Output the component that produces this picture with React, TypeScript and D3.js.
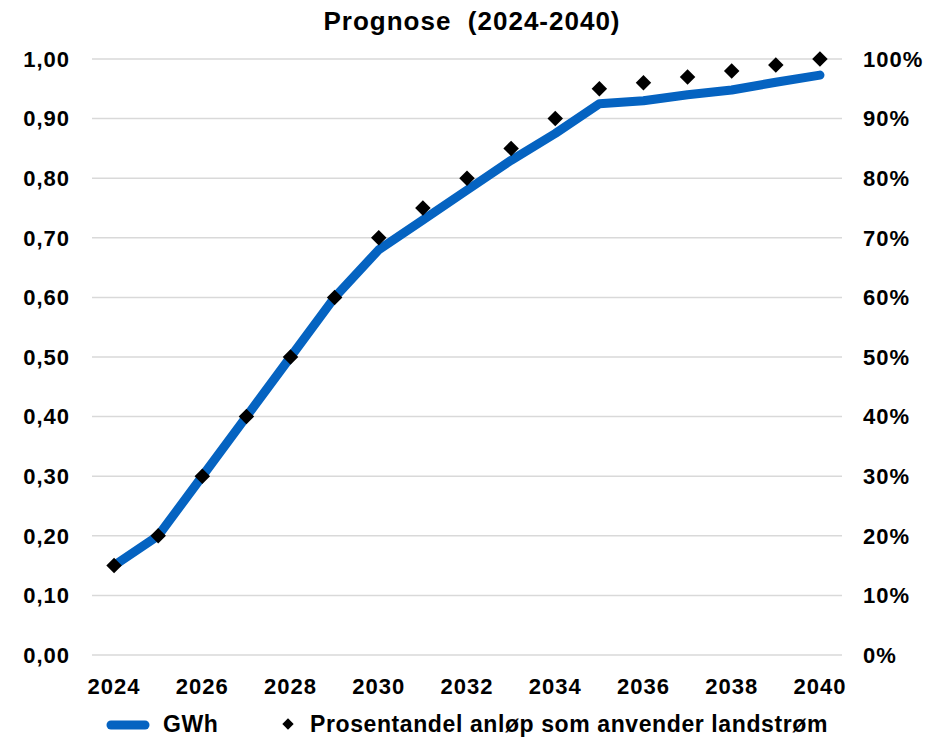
import React from "react";
import * as d3 from "d3";

const years = [2024, 2025, 2026, 2027, 2028, 2029, 2030, 2031, 2032, 2033, 2034, 2035, 2036, 2037, 2038, 2039, 2040];
const gwh = [0.15, 0.2, 0.3, 0.4, 0.5, 0.6, 0.68, 0.73, 0.78, 0.83, 0.875, 0.925, 0.93, 0.94, 0.948, 0.961, 0.973];
const share = [0.15, 0.2, 0.3, 0.4, 0.5, 0.6, 0.7, 0.75, 0.8, 0.85, 0.9, 0.95, 0.96, 0.97, 0.98, 0.99, 1.0];
const leftTicks = [0, 0.1, 0.2, 0.3, 0.4, 0.5, 0.6, 0.7, 0.8, 0.9, 1.0];
const rightTicks = [0, 0.1, 0.2, 0.3, 0.4, 0.5, 0.6, 0.7, 0.8, 0.9, 1.0];
const yearLabels = [2024, 2026, 2028, 2030, 2032, 2034, 2036, 2038, 2040];

const W = 946;
const H = 738;
const FONT = "'Liberation Sans', Arial, sans-serif";
const BLUE = "#0563C1";

export default function App() {
  const left = 92, right = 842, top = 59, bottom = 655;
  const x = d3.scaleBand<number>().domain(years).range([left, right]);
  const cx = (yr: number) => (x(yr) as number) + x.bandwidth() / 2;
  const yL = d3.scaleLinear().domain([0, 1]).range([bottom, top]);
  const yR = d3.scaleLinear().domain([0, 1]).range([bottom, top]);
  const line = d3.line<number>().x((_, i) => cx(years[i])).y((d) => yL(d));
  const fmtL = (v: number) => d3.format(".2f")(v).replace(".", ",");
  const fmtR = d3.format(".0%");
  const diamond = d3.symbol().type(d3.symbolSquare).size(120)();
  const legendDiamond = d3.symbol().type(d3.symbolSquare).size(64)();
  const tickStyle = { fontSize: 22, fontWeight: "bold" as const, letterSpacing: 1 };
  const legendY = 724;

  return (
    <svg width={W} height={H} style={{ position: "absolute", left: 0, top: 0, background: "#fff" }} fontFamily={FONT}>
      <rect width={W} height={H} fill="#fff" />
      <text x={472} y={30} textAnchor="middle" fontSize={26} fontWeight="bold" letterSpacing={1} style={{ whiteSpace: "pre" }}>
        {"Prognose  (2024-2040)"}
      </text>
      {leftTicks.map((t) => (
        <line key={"g" + t} x1={left} x2={right} y1={yL(t)} y2={yL(t)} stroke="#d9d9d9" strokeWidth={1.5} />
      ))}
      {leftTicks.map((t) => (
        <text key={"l" + t} x={70} y={yL(t)} dy="0.35em" textAnchor="end" {...tickStyle}>{fmtL(t)}</text>
      ))}
      {rightTicks.map((t) => (
        <text key={"r" + t} x={863} y={yR(t)} dy="0.35em" textAnchor="start" {...tickStyle}>{fmtR(t)}</text>
      ))}
      {yearLabels.map((yr) => (
        <text key={"x" + yr} x={cx(yr)} y={686} dy="0.35em" textAnchor="middle" {...tickStyle}>{yr}</text>
      ))}
      <path d={line(gwh) || ""} fill="none" stroke={BLUE} strokeWidth={9} strokeLinejoin="round" strokeLinecap="round" />
      {share.map((v, i) => (
        <path key={"d" + i} d={diamond || ""} transform={`translate(${cx(years[i])},${yR(v)}) rotate(45)`} fill="#000" />
      ))}
      <line x1={111} x2={145} y1={legendY + 1} y2={legendY + 1} stroke={BLUE} strokeWidth={9} strokeLinecap="round" />
      <text x={163} y={legendY} dy="0.35em" fontSize={23} fontWeight="bold" letterSpacing={0.6}>GWh</text>
      <path d={legendDiamond || ""} transform={`translate(288,${legendY})rotate(45)`} fill="#000" />
      <text x={310} y={legendY} dy="0.35em" fontSize={23} fontWeight="bold" letterSpacing={0.6}>Prosentandel anløp som anvender landstrøm</text>
    </svg>
  );
}
